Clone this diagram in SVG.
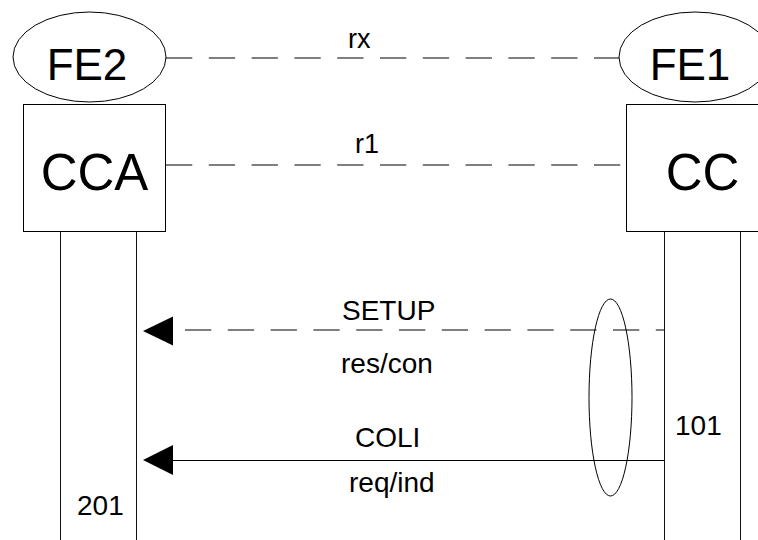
<svg xmlns="http://www.w3.org/2000/svg" width="758" height="540" viewBox="0 0 758 540">
  <style>
    .shape { fill: #fff; stroke: #000; stroke-width: 1; }
    .life { fill: none; stroke: #111; stroke-width: 1; }
    .dash { fill: none; stroke: #000; stroke-width: 1.2; stroke-dasharray: 26.3 16.5; }
    .solid { fill: none; stroke: #000; stroke-width: 1; }
    .head { fill: #000; stroke: none; }
    text { font-family: "Liberation Sans", Arial, sans-serif; fill: #000; }
    .big { font-size: 51px; text-anchor: middle; }
    .fe { font-size: 44px; text-anchor: middle; }
    .lbl { font-size: 28px; }
    .ref { font-size: 27px; }
  </style>
  <rect width="758" height="540" fill="#fff"/>

  <!-- connectors -->
  <g id="connectors">
    <line class="dash" x1="166" y1="58" x2="619" y2="58"/>
    <line class="dash" x1="166" y1="165" x2="626" y2="165"/>
    <line class="dash" x1="185" y1="330" x2="664" y2="330"/>
    <polygon class="head" points="143,331 173,316.5 173,345.5"/>
    <line class="solid" x1="173" y1="460.5" x2="664" y2="460.5"/>
    <polygon class="head" points="143,460 173,445 173,475"/>
    <ellipse class="shape" style="fill:none" cx="610.5" cy="397.5" rx="21.5" ry="98.5"/>
  </g>

  <!-- FE2 / CCA side -->
  <g id="fe2">
    <ellipse class="shape" cx="89.5" cy="57" rx="76.5" ry="45"/>
    <text class="fe" x="87" y="80">FE2</text>
  </g>
  <g id="cca">
    <rect class="shape" x="23.5" y="104.5" width="142" height="127"/>
    <text class="big" x="94.5" y="190">CCA</text>
    <line class="life" x1="60.5" y1="232" x2="60.5" y2="540"/>
    <line class="life" x1="136.5" y1="232" x2="136.5" y2="540"/>
    <text class="lbl" x="77" y="515">201</text>
  </g>

  <!-- FE1 / CC side -->
  <g id="fe1">
    <ellipse class="shape" cx="695" cy="57" rx="76" ry="45"/>
    <text class="fe" x="690" y="80">FE1</text>
  </g>
  <g id="cc">
    <rect class="shape" x="626.5" y="104.5" width="142" height="127"/>
    <text class="big" x="702.5" y="190">CC</text>
    <line class="life" x1="664.5" y1="232" x2="664.5" y2="540"/>
    <line class="life" x1="740.5" y1="232" x2="740.5" y2="540"/>
    <text class="lbl" x="675" y="435">101</text>
  </g>

  <!-- labels -->
  <g id="labels">
    <text class="ref" x="348" y="48">rx</text>
    <text class="ref" x="355" y="153">r1</text>
    <text class="lbl" x="342" y="320">SETUP</text>
    <text class="lbl" x="341" y="373">res/con</text>
    <text class="lbl" x="355" y="447">COLI</text>
    <text class="lbl" x="349" y="492">req/ind</text>
  </g>
</svg>
